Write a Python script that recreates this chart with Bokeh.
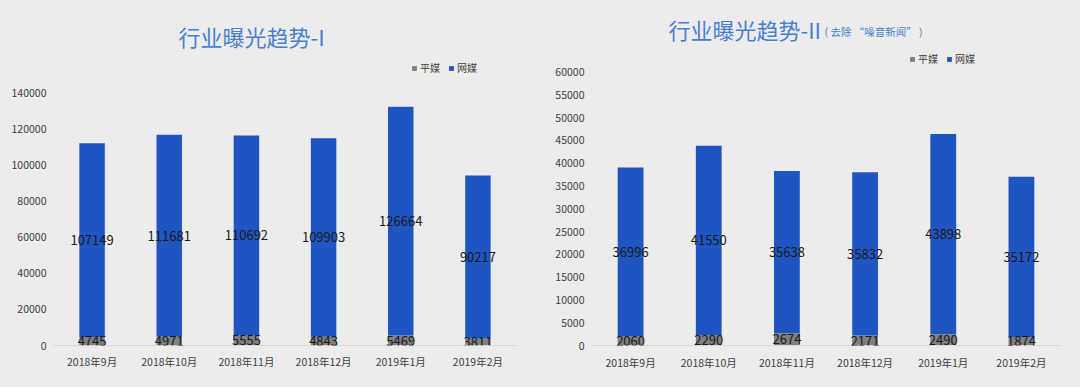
from bokeh.plotting import figure
from bokeh.models import ColumnDataSource, FactorRange, FixedTicker, LabelSet, Label, Legend, LegendItem
from bokeh.core.properties import value
from bokeh.layouts import row
from bokeh.embed import file_html
from bokeh.resources import INLINE

months = ["2018年9月", "2018年10月", "2018年11月", "2018年12月", "2019年1月", "2019年2月"]
print_all = [4745, 4971, 5555, 4843, 5469, 3811]
web_all = [107149, 111681, 110692, 109903, 126664, 90217]
print_clean = [2060, 2290, 2674, 2171, 2490, 1874]
web_clean = [36996, 41550, 35638, 35832, 43898, 35172]
ticks_left = [0, 20000, 40000, 60000, 80000, 100000, 120000, 140000]
ticks_right = [0, 5000, 10000, 15000, 20000, 25000, 30000, 35000, 40000, 45000, 50000, 55000, 60000]
series_names = ["平媒", "网媒"]

BG = "#ececec"
GREY = "#7f7f7f"
BLUE = "#1f55c0"
TITLE = "#4a7fd0"
FONT = "Noto Sans CJK SC"
H = 379


def make_chart(prints, webs, ticks, width, borders, top_px, title_main, title_x, title_y,
               sub=None, legend_loc=(0, 0), xstand=8):
    frame_h = H - borders[2]
    ymax = ticks[-1]
    yend = ymax * frame_h / (frame_h - top_px)
    src = ColumnDataSource(dict(
        month=months, p=prints, w=webs,
        pmid=[v / 2 for v in prints],
        wmid=[a + b / 2 for a, b in zip(prints, webs)],
        ptxt=[str(v) for v in prints], wtxt=[str(v) for v in webs],
    ))
    p = figure(x_range=FactorRange(*months, range_padding=0), y_range=(0, yend),
               width=width, height=H, output_backend="svg", toolbar_location=None,
               min_border_left=borders[0], min_border_right=borders[1],
               min_border_top=0, min_border_bottom=borders[2])
    p.background_fill_color = BG
    p.border_fill_color = BG
    p.outline_line_color = None
    p.grid.grid_line_color = None
    rs = p.vbar_stack(["p", "w"], x="month", width=0.33, source=src,
                      color=[GREY, BLUE], line_color=None)
    for col, txt in (("pmid", "ptxt"), ("wmid", "wtxt")):
        p.add_layout(LabelSet(x="month", y=col, text=txt, source=src,
                              text_align="center", text_baseline="middle",
                              text_font=value(FONT), text_font_size="13px", text_color="#1a1a1a"))
    p.yaxis.ticker = FixedTicker(ticks=ticks)
    p.yaxis.axis_line_color = None
    p.xaxis.axis_line_color = "#d6d6d6"
    for ax in (p.xaxis, p.yaxis):
        ax.major_tick_line_color = None
        ax.minor_tick_line_color = None
        ax.major_tick_out = 0
        ax.major_tick_in = 0
        ax.major_label_text_font = FONT
        ax.major_label_text_font_size = "10.5px"
        ax.major_label_text_color = "#404040"
    p.yaxis.major_label_standoff = 7
    p.xaxis.major_label_standoff = xstand
    p.yaxis.formatter.use_scientific = False
    p.add_layout(Label(x=title_x, y=title_y, x_units="screen", y_units="screen",
                       text=title_main, text_font=FONT, text_font_size="22px",
                       text_color=TITLE, text_baseline="middle"))
    if sub:
        p.add_layout(Label(x=sub[1], y=sub[2], x_units="screen", y_units="screen",
                           text=sub[0], text_font=FONT, text_font_size="10.5px",
                           text_color=TITLE, text_baseline="middle"))
    leg = Legend(items=[LegendItem(label=series_names[i], renderers=[rs[i]]) for i in range(2)],
                 location=legend_loc, orientation="horizontal",
                 glyph_width=6, glyph_height=6, label_standoff=3, spacing=8,
                 padding=0, margin=0, border_line_color=None, background_fill_alpha=0,
                 label_text_font=FONT, label_text_font_size="10px", label_text_color="#404040",
                 label_height=12)
    p.add_layout(leg, "center")
    return p


left = make_chart(print_all, web_all, ticks_left, 540, (53, 24, 34), 92,
                  "行业曝光趋势-I", 125, 310, None, (358, 270), 8)
right = make_chart(print_clean, web_clean, ticks_right, 532, (51, 12, 27), 73,
                   "行业曝光趋势-II", 77, 317, ("( 去除 “噪音新闻”  )", 233, 314), (318, 279), 9)

layout = row(left, right)
html = file_html(layout, INLINE)
html = html.replace("<head>", "<head><style>body{background:#ececec;}</style>", 1)
open("out.html", "w").write(html)
